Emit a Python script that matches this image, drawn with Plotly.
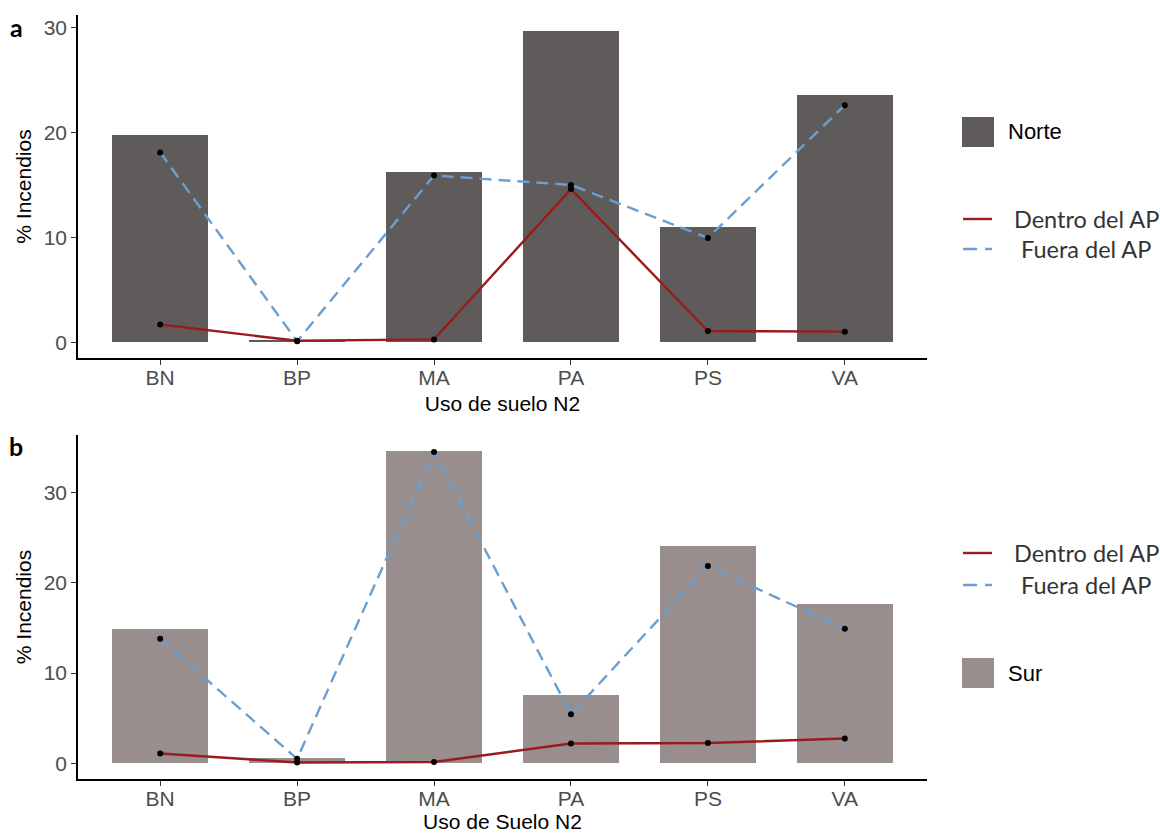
import plotly.graph_objects as go

# Land-use classes (N2)
categorias = ["BN", "BP", "MA", "PA", "PS", "VA"]

# Panel a: Norte
norte_total = [19.8, 0.2, 16.2, 29.7, 11.0, 23.6]
norte_dentro = [1.7, 0.15, 0.28, 14.6, 1.08, 1.02]
norte_fuera = [18.1, 0.1, 15.9, 15.0, 9.95, 22.6]

# Panel b: Sur
sur_total = [14.9, 0.65, 34.6, 7.6, 24.1, 17.7]
sur_dentro = [1.1, 0.1, 0.15, 2.2, 2.25, 2.75]
sur_fuera = [13.8, 0.5, 34.5, 5.45, 21.85, 14.9]

W, H = 1160, 833
COL_NORTE = "#5f5b5a"
COL_SUR = "#988e8e"
COL_DENTRO = "#9a1b1d"
COL_FUERA = "#6a9fd2"
AXIS_FONT = "Liberation Sans"
LEG_FONT = "Lato"
FS = 21


def px_x(px):
    return px / W


def px_y(py):
    return 1 - py / H


fig = go.Figure()


def add_panel(total, dentro, fuera, color, xa, ya):
    fig.add_trace(go.Bar(x=categorias, y=total, width=0.7, marker=dict(color=color, line=dict(width=0)),
                         showlegend=False, xaxis=xa, yaxis=ya))
    fig.add_trace(go.Scatter(x=categorias, y=fuera, mode="lines",
                             line=dict(color=COL_FUERA, width=2.4, dash="12px,7px"),
                             showlegend=False, xaxis=xa, yaxis=ya))
    fig.add_trace(go.Scatter(x=categorias, y=dentro, mode="lines",
                             line=dict(color=COL_DENTRO, width=2.4),
                             showlegend=False, xaxis=xa, yaxis=ya))
    for vals in (fuera, dentro):
        fig.add_trace(go.Scatter(x=categorias, y=vals, mode="markers",
                                 marker=dict(color="black", size=6),
                                 showlegend=False, xaxis=xa, yaxis=ya))


add_panel(norte_total, norte_dentro, norte_fuera, COL_NORTE, "x", "y")
add_panel(sur_total, sur_dentro, sur_fuera, COL_SUR, "x2", "y2")

x_dom = [px_x(78), px_x(927)]

xcommon = dict(type="category", categoryorder="array", categoryarray=categorias,
               range=[-0.6, 5.6], showline=True, linecolor="black", linewidth=1.5,
               ticks="outside", ticklen=5, tickwidth=1.2, tickcolor="#333333",
               ticklabelstandoff=-5,
               showgrid=False, zeroline=False,
               tickfont=dict(family=AXIS_FONT, size=FS, color="#4d4d4d"))
ycommon = dict(showline=True, linecolor="black", linewidth=1.5,
               ticks="outside", ticklen=5, tickwidth=1.2, tickcolor="#333333",
               showgrid=False, zeroline=False, tickvals=[0, 10, 20, 30],
               tickfont=dict(family=AXIS_FONT, size=FS, color="#4d4d4d"))
title_font = dict(family=AXIS_FONT, size=FS, color="black")

fig.update_layout(
    width=W, height=H,
    margin=dict(l=0, r=0, t=0, b=0),
    paper_bgcolor="white", plot_bgcolor="white",
    bargap=0,
    xaxis=dict(xcommon, domain=x_dom, anchor="y",
               title=dict(text="Uso de suelo N2", standoff=8, font=title_font)),
    yaxis=dict(ycommon, domain=[px_y(358), px_y(15)], anchor="x", range=[-1.49, 31.19],
               title=dict(text="% Incendios", standoff=6, font=title_font)),
    xaxis2=dict(xcommon, domain=x_dom, anchor="y2",
                title=dict(text="Uso de Suelo N2", standoff=8, font=title_font)),
    yaxis2=dict(ycommon, domain=[px_y(779), px_y(435)], anchor="x2", range=[-1.73, 36.37],
                title=dict(text="% Incendios", standoff=6, font=title_font)),
)

shapes = []
annotations = []

# Panel tags
for tag, (tx, ty) in (("a", (16, 27)), ("b", (16, 446))):
    annotations.append(dict(text=f"<b>{tag}</b>", x=px_x(tx), y=px_y(ty), xref="paper", yref="paper",
                            xanchor="center", yanchor="middle", showarrow=False,
                            font=dict(family=LEG_FONT, size=25, color="black")))


def legend_box(label, color, cy):
    shapes.append(dict(type="rect", xref="paper", yref="paper",
                       x0=px_x(962), x1=px_x(994), y0=px_y(cy + 15), y1=px_y(cy - 15),
                       fillcolor=color, line=dict(width=0)))
    annotations.append(dict(text=label, x=px_x(1006), y=px_y(cy), xref="paper", yref="paper",
                            xanchor="left", yanchor="middle", showarrow=False,
                            font=dict(family=AXIS_FONT, size=22, color="black")))


def legend_lines(cy_dentro, cy_fuera):
    shapes.append(dict(type="line", xref="paper", yref="paper",
                       x0=px_x(963), x1=px_x(992), y0=px_y(cy_dentro), y1=px_y(cy_dentro),
                       line=dict(color=COL_DENTRO, width=2.4)))
    shapes.append(dict(type="line", xref="paper", yref="paper",
                       x0=px_x(963), x1=px_x(992), y0=px_y(cy_fuera), y1=px_y(cy_fuera),
                       line=dict(color=COL_FUERA, width=2.4, dash="14px,8px")))
    annotations.append(dict(text="Dentro del AP", x=px_x(1012), y=px_y(cy_dentro), xref="paper", yref="paper",
                            xanchor="left", yanchor="middle", showarrow=False,
                            font=dict(family=LEG_FONT, size=23.5, color="#333333")))
    annotations.append(dict(text="Fuera del AP", x=px_x(1019), y=px_y(cy_fuera), xref="paper", yref="paper",
                            xanchor="left", yanchor="middle", showarrow=False,
                            font=dict(family=LEG_FONT, size=23.5, color="#333333")))


legend_box("Norte", COL_NORTE, 132)
legend_lines(219, 249)
legend_lines(553, 585)
legend_box("Sur", COL_SUR, 673)

fig.update_layout(shapes=shapes, annotations=annotations)

fig.write_html("out.html")
